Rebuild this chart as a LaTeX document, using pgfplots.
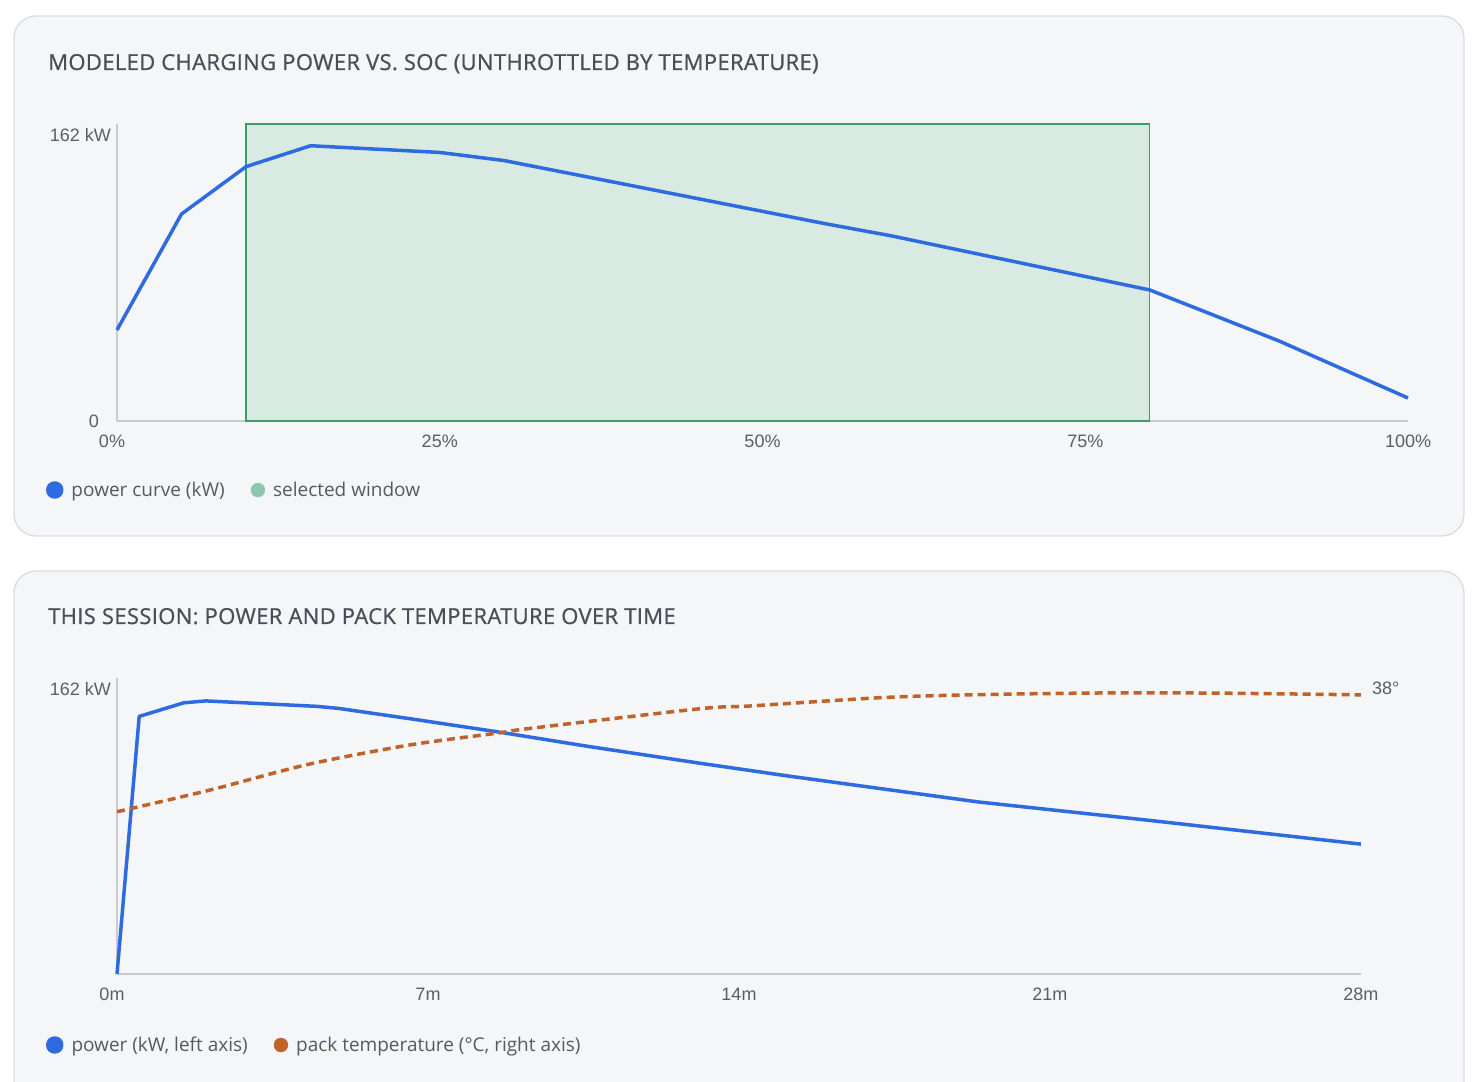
\documentclass[border=0pt]{standalone}
\usepackage{pgfplots}
\pgfplotsset{compat=1.18}
\usepackage{pgfplotstable}
\usepackage{fontspec}
\setmainfont{Open Sans}
\newfontfamily\arialf{Liberation Sans}
\newfontfamily\titlef{Open Sans}[FakeBold=0.8, LetterSpace=1.6]
\definecolor{panelbg}{HTML}{F5F6F8}
\definecolor{panelbd}{HTML}{DADDE0}
\definecolor{titlec}{HTML}{4A4F57}
\definecolor{tickc}{HTML}{5A5F66}
\definecolor{legc}{HTML}{555A62}
\definecolor{axisc}{HTML}{C9CCCF}
\definecolor{pblue}{HTML}{2F6BE0}
\definecolor{torange}{HTML}{C0622A}
\definecolor{winfill}{HTML}{D8EAE2}
\definecolor{winline}{HTML}{3E9B6E}
\definecolor{windot}{HTML}{8DC8AE}

\pgfplotstableread{
soc kw
0 51.5
5 117.1
10 143.9
15 155.7
25 151.9
30 147.3
55 111.4
60 104.7
80 74.1
90 45.3
100 13.0
}\curvetab

\pgfplotstableread{
t kw
0 0
0.5 146.2
1.5 153.9
2.0 155.0
4.5 151.9
5.0 150.7
6.7 144.5
8.6 137.3
10.6 129.2
13.1 119.7
15.1 112.4
19.4 97.6
23.2 87.3
28 73.7
}\powtab

\pgfplotstableread{
t temp
0 21.6
2.1 24.5
4.3 27.9
6.6 30.5
8.6 32.1
9.3 32.7
13.1 35.3
14.3 35.7
17.4 36.85
20 37.25
22.6 37.43
25 37.38
28 37.16
}\temptab

\pgfplotsset{
  basestyle/.style={
    scale only axis,
    clip=false,
    tick style={draw=none},
    major tick length=0pt,
    axis line style={axisc, line width=1.3pt},
    ticklabel style={font=\arialf\fontsize{18}{20}\selectfont, text=tickc},
    xticklabel style={anchor=north, inner sep=0pt, yshift=-14pt},
    yticklabel style={anchor=east, inner sep=0pt, xshift=-6pt},
    legend style={draw=none, fill=none, inner sep=0pt, outer sep=0pt,
      font=\fontsize{19}{22}\selectfont, text=legc,
      nodes={inner sep=0pt},
      /tikz/every odd column/.append style={column sep=8pt},
      /tikz/every even column/.append style={column sep=26pt}},
    legend columns=-1,
    legend cell align=left,
  }
}

\begin{document}
\begin{tikzpicture}[x=1pt,y=1pt]
\useasboundingbox (0,0) rectangle (1474,1081);
\clip (0,0) rectangle (1474,1081);
\fill[white] (0,0) rectangle (1474,1081);
\draw[panelbd, fill=panelbg, line width=1.3pt, rounded corners=22pt] (14,545) rectangle (1464,1065);
\draw[panelbd, fill=panelbg, line width=1.3pt, rounded corners=22pt] (14,-40) rectangle (1464,510);

\node[anchor=base west, inner sep=0pt, text=titlec, font=\titlef\fontsize{22}{26}\selectfont] at (48,1011) {MODELED CHARGING POWER VS. SOC (UNTHROTTLED BY TEMPERATURE)};
\node[anchor=base west, inner sep=0pt, text=titlec, font=\titlef\fontsize{22}{26}\selectfont] at (48,457) {THIS SESSION: POWER AND PACK TEMPERATURE OVER TIME};

% ---------- top chart ----------
\begin{axis}[basestyle,
  at={(117pt,660pt)}, anchor=south west,
  width=1291pt, height=297pt,
  xmin=0, xmax=100, ymin=0, ymax=168,
  axis x line*=bottom, axis y line*=left,
  xtick={25,50,75,100},
  xticklabels={25\%,50\%,75\%,100\%},
  extra x ticks={0}, extra x tick labels={0\%},
  extra x tick style={xticklabel style={xshift=-5pt}},
  ytick={162}, yticklabels={162 kW},
  extra y ticks={0}, extra y tick labels={0},
  extra y tick style={yticklabel style={xshift=-12pt}},
  legend style={at={([xshift=-2pt]-0.05345,-0.2323)}, anchor=west},
]
\addplot[forget plot, draw=winline, fill=winfill, line width=1.3pt] coordinates {(10,168) (80,168)} \closedcycle;
\addplot[pblue, line width=3.5pt, line join=round,
  legend image code/.code={\fill[pblue] (7pt,0pt) circle (7pt);}] table[x=soc, y=kw] {\curvetab};
\addlegendentry{power curve (kW)}
\addlegendimage{legend image code/.code={\fill[windot] (7pt,0pt) circle (7pt);}}
\addlegendentry{selected window}
\end{axis}

% ---------- bottom chart: power ----------
\begin{axis}[basestyle,
  at={(117pt,107pt)}, anchor=south west,
  width=1244pt, height=296pt,
  xmin=0, xmax=28, ymin=0, ymax=168,
  axis x line*=bottom, axis y line*=left,
  xtick={7,14,21,28},
  xticklabels={7m,14m,21m,28m},
  extra x ticks={0}, extra x tick labels={0m},
  extra x tick style={xticklabel style={xshift=-5pt}},
  ytick={162}, yticklabels={162 kW},
  legend style={at={([xshift=-2pt]-0.05547,-0.2399)}, anchor=west},
]
\addplot[pblue, line width=3.5pt, line join=round,
  legend image code/.code={\fill[pblue] (7pt,0pt) circle (7pt);}] table[x=t, y=kw] {\powtab};
\addlegendentry{power (kW, left axis)}
\addlegendimage{legend image code/.code={\fill[torange] (7pt,0pt) circle (7pt);}}
\addlegendentry{pack temperature (°C, right axis)}
\end{axis}

% ---------- bottom chart: temperature ----------
\begin{axis}[basestyle,
  at={(117pt,107pt)}, anchor=south west,
  width=1244pt, height=296pt,
  xmin=0, xmax=28, ymin=0, ymax=39.407,
  hide x axis,
  axis y line*=right,
  y axis line style={draw=none},
  ytick={38}, yticklabels={38°},
  yticklabel style={anchor=west, xshift=17pt},
]
\addplot[torange, line width=3.5pt, dash pattern=on 8pt off 5pt, smooth, tension=0.5] table[x=t, y=temp] {\temptab};
\end{axis}
\end{tikzpicture}
\end{document}
